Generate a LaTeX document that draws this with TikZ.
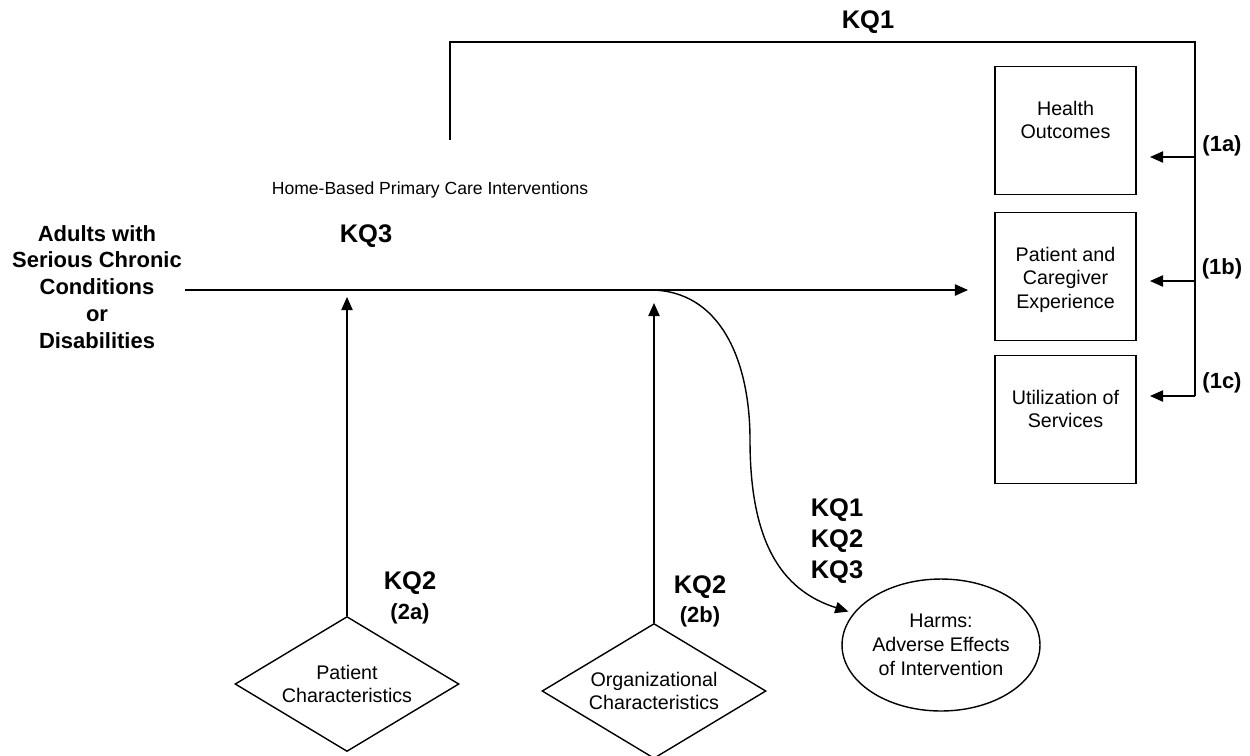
\documentclass[tikz,border=0pt]{standalone}
\usepackage{fontspec}
\setmainfont{Liberation Sans}
\usetikzlibrary{arrows.meta,positioning,calc,shapes}

\begin{document}
\begin{tikzpicture}[x=0.02cm,y=-0.02cm,line width=0.8pt,
	myarrow/.style={-{Triangle[length=7.5pt,width=6.5pt]}},
	plain/.style={inner sep=0pt,align=center,font=\fontsize{11.2}{13.6}\selectfont},
	outbox/.style={draw,minimum width=2.82cm,minimum height=2.55cm},
	factor/.style={draw,diamond,aspect=1.66,inner sep=0pt,minimum width=4.48cm,minimum height=2.7cm,align=center,font=\fontsize{11.2}{13.2}\selectfont},
	harm/.style={draw,ellipse,inner sep=0pt,minimum width=3.96cm,minimum height=2.64cm,align=center,font=\fontsize{11.2}{13.6}\selectfont},
	kq/.style={align=center,inner sep=0pt,font=\fontsize{14.5}{17.6}\selectfont\bfseries},
	sub/.style={align=center,inner sep=0pt,font=\fontsize{12.5}{15.3}\selectfont\bfseries}]
	\useasboundingbox (0,0) rectangle (1250,755);
	\draw
		(97,287) node[sub](adults){Adults with\\Serious Chronic\\Conditions\\or\\Disabilities}
		(430,190) node[plain,font=\fontsize{10}{12}\selectfont](hbpc){Home-Based Primary Care Interventions}
		(366,236) node[kq](kq3){KQ3}
		(868,22) node[kq](kq1){KQ1}
		(1065.5,130.5) node[outbox](health){}
		(1065.5,276.5) node[outbox](exper){}
		(1065.5,419.5) node[outbox](util){}
		(347,684) node[factor](patient){Patient\\Characteristics}
		(654,691) node[factor](org){Organizational\\Characteristics}
		(941,645) node[harm](harms){Harms:\\Adverse Effects\\of Intervention}
		(410,583) node[kq](kq2a){KQ2}
		(410,614) node[sub](sub2a){(2a)}
		(700,587) node[kq](kq2b){KQ2}
		(700,617) node[sub](sub2b){(2b)}
		(837,541) node[kq](kqall){KQ1\\KQ2\\KQ3}
		(1222,146) node[sub](l1a){(1a)}
		(1222,269) node[sub](l1b){(1b)}
		(1222,383) node[sub](l1c){(1c)};
	\node[plain,below=0.68cm of health.north](htxt){Health\\Outcomes};
	\node[plain,below=0.68cm of exper.north](etxt){Patient and\\Caregiver\\Experience};
	\node[plain,below=0.68cm of util.north](utxt){Utilization of\\Services};
	% main line and branch points
	\coordinate (lstart) at (185,290);
	\coordinate (lend) at (968,290);
	\coordinate (split) at (650,290);
	\coordinate (tipa) at (347,297);
	\coordinate (tipb) at (654,303);
	\coordinate (kqa) at (450,140);
	\coordinate (kqc) at (1195,42);
	\coordinate (t1a) at (1150,157);
	\coordinate (t1b) at (1150,281);
	\coordinate (t1c) at (1150,396);
	\draw[myarrow](lstart)--(lend);
	\draw[myarrow](patient.north)--(tipa);
	\draw[myarrow](org.north)--(tipb);
	\draw(kqa)|-(kqc)--(kqc|-t1c);
	\draw[myarrow](kqc|-t1a)--(t1a);
	\draw[myarrow](kqc|-t1b)--(t1b);
	\draw[myarrow](kqc|-t1c)--(t1c);
	\draw[myarrow,shorten >=3pt](split) .. controls (720,290) and (750,360) .. (750,440)
		.. controls (750,540) and (780,590) .. (harms.160);
\end{tikzpicture}
\end{document}
